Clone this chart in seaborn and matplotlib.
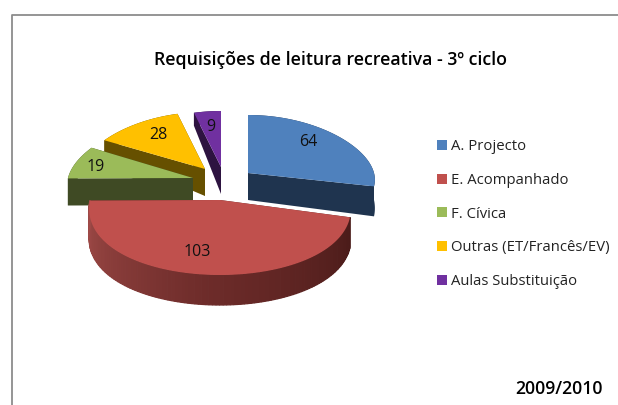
import numpy as np
import matplotlib
matplotlib.use('Agg')
import matplotlib.pyplot as plt
import seaborn as sns
from matplotlib.colors import LinearSegmentedColormap
from matplotlib.patches import Patch, Polygon

title = 'Requisições de leitura recreativa - 3º ciclo'
year_label = '2009/2010'
categories = ['A. Projecto', 'E. Acompanhado', 'F. Cívica', 'Outras (ET/Francês/EV)', 'Aulas Substituição']
values = [64, 103, 19, 28, 9]

top_colors = ['#4F81BD', '#C0504D', '#9BBB59', '#FFC000', '#7030A0']
side_colors = ['#1F344F', '#5A2422', '#3F4A24', '#665000', '#2D1340']

# exploded slice layout in pixels: centre x, centre y, radius x, radius y
layout = {
    0: (248, 173, 126, 58),
    1: (220, 200, 130, 75),
    2: (193, 178, 125, 60),
    3: (205, 169, 124, 57),
    4: (221, 167, 122, 56),
}
label_pos = [(308, 142), (197, 252), (96, 167), (158, 135), (211, 127)]
draw_order = [4, 3, 2, 0, 1]
PERSPECTIVE = 0.12


def depth_at(v):
    """Extrusion height shrinks towards the back of the pie."""
    v = np.asarray(v, dtype=float)
    return np.where(v < 0, np.maximum(13, 27 + 30 * v), np.minimum(30, 27 + 13 * v))


def rim(slice_idx, theta):
    cx, cy, rx, ry = layout[slice_idx]
    v = -np.cos(theta)
    x = cx + rx * np.sin(theta) * (1 + PERSPECTIVE * v)
    y = cy + ry * v
    return x, y, v


def draw_slice(ax, idx, start, end):
    cx, cy, _, _ = layout[idx]
    theta = np.linspace(start, end, 120)
    x, y, v = rim(idx, theta)
    d = depth_at(v)

    # flat cut faces
    for t in (start, end):
        px, py, pv = rim(idx, np.array([t]))
        face = [(cx, cy), (px[0], py[0]), (px[0], py[0] + depth_at(pv)[0]), (cx, cy + 27)]
        ax.add_patch(Polygon(face, closed=True, fc=side_colors[idx], ec='none', zorder=draw_order.index(idx) * 2 + 1))

    # outer wall
    if idx == 1:
        cmap = LinearSegmentedColormap.from_list('wall', ['#4A1B19', '#6E2C2A', '#A04B48'])
        for i in range(len(theta) - 1):
            quad = [(x[i], y[i]), (x[i + 1], y[i + 1]), (x[i + 1], y[i + 1] + d[i + 1]), (x[i], y[i] + d[i])]
            ax.add_patch(Polygon(quad, closed=True, fc=cmap(i / (len(theta) - 2)), ec=cmap(i / (len(theta) - 2)),
                                 lw=0.9, zorder=draw_order.index(idx) * 2 + 1))
    else:
        wall = list(zip(x, y)) + list(zip(x[::-1], (y + d)[::-1]))
        ax.add_patch(Polygon(wall, closed=True, fc=side_colors[idx], ec='none', zorder=draw_order.index(idx) * 2 + 1))

    # top face
    top = [(cx, cy)] + list(zip(x, y))
    ax.add_patch(Polygon(top, closed=True, fc=top_colors[idx], ec='none', zorder=draw_order.index(idx) * 2 + 2))


def main():
    sns.set_theme(style='white')
    plt.rcParams['font.family'] = ['Open Sans', 'DejaVu Sans']

    fig = plt.figure(figsize=(6.18, 4.05), dpi=100)
    ax = fig.add_axes([0, 0, 1, 1])
    ax.set_xlim(0, 618)
    ax.set_ylim(405, 0)
    ax.axis('off')

    # chart frame, cut off by the image on the right and bottom
    ax.plot([11.5, 11.5, 618], [405, 14.5, 14.5], color='#8C8C8C', lw=1.3, zorder=0)

    angles = np.cumsum([0] + values) / sum(values) * 2 * np.pi
    for idx in draw_order:
        draw_slice(ax, idx, angles[idx], angles[idx + 1])

    for val, (lx, ly) in zip(values, label_pos):
        ax.text(lx, ly, str(val), ha='center', va='center', fontsize=11.5, color='#111111', zorder=20)

    ax.text(330.5, 60, title, ha='center', va='center', fontsize=12.8, fontweight='semibold', color='black')
    ax.text(558.5, 389, year_label, ha='center', va='center', fontsize=12.7, fontweight='semibold', color='black')

    handles = [Patch(fc=c, ec='none') for c in top_colors]
    ax.legend(handles, categories, loc='upper left', bbox_to_anchor=(432.5 / 618, 1 - 135 / 405),
              frameon=False, fontsize=10.7, labelcolor='#222222', handlelength=0.65, handleheight=0.65,
              handletextpad=0.3, labelspacing=1.25, borderpad=0.3, borderaxespad=0)

    fig.savefig('out.png', dpi=100, facecolor='white')
    plt.close(fig)


if __name__ == "__main__":
    main()
